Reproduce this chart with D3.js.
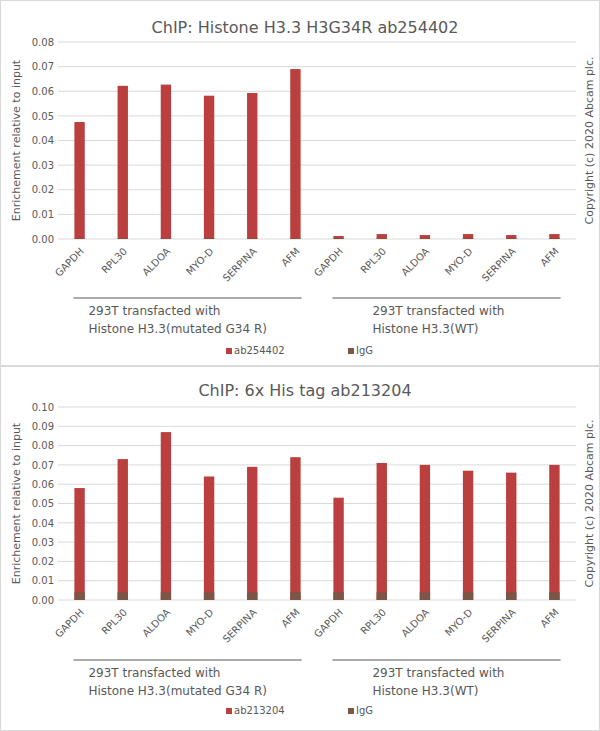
<!DOCTYPE html>
<html><head><meta charset="utf-8">
<script src="https://cdn.jsdelivr.net/npm/d3@7"></script>
<style>body{margin:0;background:#fff}text{font-family:"DejaVu Sans",sans-serif;fill:#595959}</style>
</head><body><svg id="c" width="600" height="731"></svg>
<script>
const categories = ["GAPDH","RPL30","ALDOA","MYO-D","SERPINA","AFM","GAPDH","RPL30","ALDOA","MYO-D","SERPINA","AFM"];
const groupLabels = [["293T transfacted with","Histone H3.3(mutated G34 R)"],["293T transfacted with","Histone H3.3(WT)"]];
const titles = ["ChIP: Histone H3.3 H3G34R ab254402","ChIP: 6x His tag ab213204"];
const seriesNames = [["ab254402","IgG"],["ab213204","IgG"]];
const ab254402 = [0.0475,0.0622,0.0627,0.0582,0.0593,0.0690,0.0012,0.0020,0.0016,0.0020,0.0016,0.0020];
const igg1 = [0.0003,0.0003,0.0003,0.0003,0.0003,0.0003,0.0003,0.0003,0.0003,0.0003,0.0003,0.0003];
const ab213204 = [0.058,0.073,0.087,0.064,0.069,0.074,0.053,0.071,0.070,0.067,0.066,0.070];
const igg2 = [0.004,0.004,0.004,0.004,0.004,0.004,0.004,0.004,0.004,0.004,0.004,0.004];
const yTicks1 = [0,0.01,0.02,0.03,0.04,0.05,0.06,0.07,0.08];
const yTicks2 = [0,0.01,0.02,0.03,0.04,0.05,0.06,0.07,0.08,0.09,0.10];

const svg = d3.select("#c");
const panels = [
 {top:0,h:365,title:titles[0],ab:ab254402,igg:igg1,ticks:yTicks1,max:0.08,y0:239,y1:42,titleY:27,lineY:298,t1:315,t2:333,legY:354,names:seriesNames[0]},
 {top:366,h:364,title:titles[1],ab:ab213204,igg:igg2,ticks:yTicks2,max:0.10,y0:600,y1:407,titleY:390,lineY:660,t1:677,t2:695,legY:714,names:seriesNames[1]}
];
const abColor="#bb3f3f", iggColor="#7b5546";
panels.forEach(p=>{
  svg.append("rect").attr("x",0.5).attr("y",p.top+0.5).attr("width",599).attr("height",p.h).attr("fill","none").attr("stroke","#d9d9d9");
  const x = d3.scaleBand().domain(d3.range(categories.length)).range([58,576]).paddingInner(0.76).paddingOuter(0.38);
  const y = d3.scaleLinear().domain([0,p.max]).range([p.y0,p.y1]);
  svg.append("text").attr("x",305).attr("y",p.titleY+6).attr("text-anchor","middle").attr("font-size",16).text(p.title);
  const g = svg.append("g");
  g.selectAll(".grid").data(p.ticks).join("line").attr("x1",58).attr("x2",576)
   .attr("y1",d=>y(d)).attr("y2",d=>y(d)).attr("stroke","#d9d9d9");
  const ax = svg.append("g").attr("transform","translate(58,0)").call(d3.axisLeft(y).tickValues(p.ticks).tickFormat(d3.format(".2f")).tickSize(0).tickPadding(4));
  ax.select(".domain").remove();
  ax.selectAll("text").attr("font-size",10).style("fill","#595959").style("font-family","DejaVu Sans");
  svg.append("text").attr("transform",`translate(20,${(p.y0+p.y1)/2}) rotate(-90)`).attr("text-anchor","middle").attr("font-size",11).text("Enrichement relative to input");
  svg.append("text").attr("transform",`translate(593,${(p.y0+p.y1)/2}) rotate(-90)`).attr("text-anchor","middle").attr("font-size",11).text("Copyright (c) 2020 Abcam plc.");
  svg.append("g").selectAll("rect").data(p.ab).join("rect").attr("x",(d,i)=>x(i)).attr("width",x.bandwidth())
    .attr("y",d=>y(d)).attr("height",d=>p.y0-y(d)).attr("fill",abColor);
  svg.append("g").selectAll("rect").data(p.igg).join("rect").attr("x",(d,i)=>x(i)).attr("width",x.bandwidth())
    .attr("y",d=>y(d)).attr("height",d=>p.y0-y(d)).attr("fill",iggColor);
  svg.append("g").selectAll("text").data(categories).join("text")
    .attr("transform",(d,i)=>`translate(${x(i)+x.bandwidth()/2+5},${p.y0+13}) rotate(-45)`)
    .attr("text-anchor","end").attr("font-size",10).text(d=>d);
  [[0,5],[6,11]].forEach((r,k)=>{
    const xa=x(r[0])-1, xb=x(r[1])+x.bandwidth()+1;
    svg.append("line").attr("x1",xa).attr("x2",xb).attr("y1",p.lineY).attr("y2",p.lineY).attr("stroke","#595959");
    const tx = k==0 ? xa+15 : xa+40;
    svg.append("text").attr("x",tx).attr("y",p.t1).attr("font-size",12).text(groupLabels[k][0]);
    svg.append("text").attr("x",tx).attr("y",p.t2).attr("font-size",12).text(groupLabels[k][1]);
  });
  const lg=[[226,abColor],[348,iggColor]];
  lg.forEach((l,k)=>{
    svg.append("rect").attr("x",l[0]).attr("y",p.legY-6).attr("width",6).attr("height",6).attr("fill",l[1]);
    svg.append("text").attr("x",l[0]+8).attr("y",p.legY).attr("font-size",10).text(p.names[k]);
  });
});
</script></body></html>
